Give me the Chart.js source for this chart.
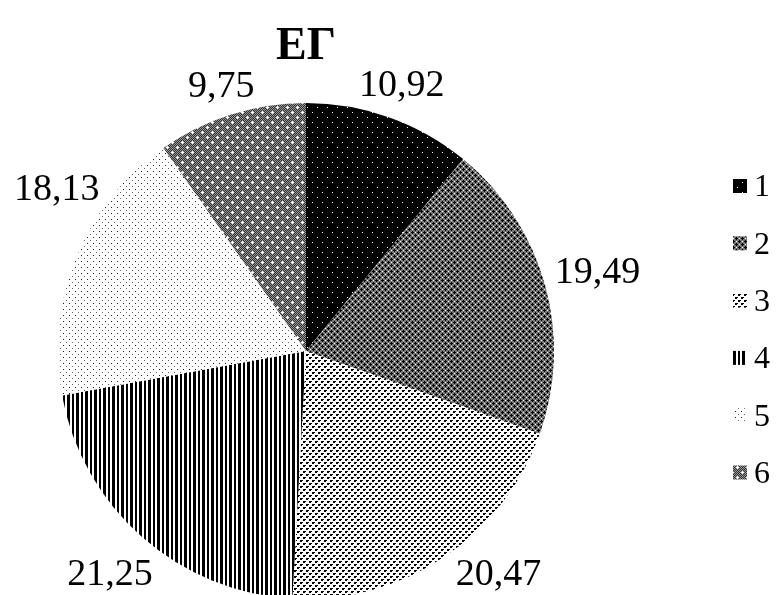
<!DOCTYPE html>
<html>
<head>
<meta charset="utf-8">
<script src="https://cdn.jsdelivr.net/npm/chart.js@4.4.0/dist/chart.umd.min.js"></script>
<style>
html, body { margin: 0; padding: 0; background: #fff; overflow: hidden; }
canvas { display: block; }
</style>
</head>
<body>
<canvas id="c" width="782" height="600"></canvas>
<script>
var chartTitle = 'ЕГ';
var categories = ['1', '2', '3', '4', '5', '6'];
var shares = [10.92, 19.49, 20.47, 21.25, 18.13, 9.75];

var FONT = '"Liberation Serif", "Times New Roman", serif';
var LABEL_SIZE = 38;
var GAP = 10;

var canvas = document.getElementById('c');
var ctx = canvas.getContext('2d');

// small tiles that mimic the excel fill patterns
function makePattern(w, h, bg, draw) {
    var t = document.createElement('canvas');
    t.width = w;
    t.height = h;
    var g = t.getContext('2d');
    g.fillStyle = bg;
    g.fillRect(0, 0, w, h);
    draw(g);
    return ctx.createPattern(t, 'repeat');
}

function dots(g, color, pts) {
    g.fillStyle = color;
    pts.forEach(function(p) {
        g.fillRect(p[0], p[1], p[2] || 1, p[3] || 1);
    });
}

function plus(g, color, x, y) {
    dots(g, color, [[x, y - 1], [x - 1, y], [x, y], [x + 1, y], [x, y + 1]]);
}

var fills = [
    makePattern(10, 10, '#000', function(g) {
        dots(g, '#fff', [[2, 2], [7, 7]]);
    }),
    makePattern(6, 6, '#777', function(g) {
        plus(g, '#000', 1, 1);
        plus(g, '#000', 4, 4);
        dots(g, '#fff', [[4, 1], [1, 4]]);
    }),
    makePattern(6, 6, '#fff', function(g) {
        dots(g, '#000', [[0, 0, 2, 2], [2, 0], [3, 3, 2, 2], [5, 3]]);
    }),
    makePattern(9, 1, '#fff', function(g) {
        dots(g, '#000', [[0, 0, 2, 1], [4, 0, 3, 1]]);
    }),
    makePattern(6, 6, '#fff', function(g) {
        dots(g, '#666', [[0, 0]]);
        dots(g, '#222', [[3, 3]]);
    }),
    makePattern(10, 10, '#fff', function(g) {
        for (var y = 0; y < 10; y++) {
            for (var x = 0; x < 10; x++) {
                g.fillStyle = (x + y) % 2 ? '#333' : '#959595';
                g.fillRect(x, y, 1, 1);
            }
        }
        plus(g, '#fff', 2, 2);
        plus(g, '#fff', 7, 7);
    })
];

function fmt(v) {
    return v.toFixed(2).replace('.', ',');
}

var titlePlugin = {
    id: 'pieTitle',
    afterDraw: function(chart) {
        var c = chart.ctx, a = chart.chartArea;
        c.save();
        c.font = 'bold 46px ' + FONT;
        c.fillStyle = '#000';
        c.textAlign = 'center';
        c.textBaseline = 'alphabetic';
        c.fillText(chartTitle, (a.left + a.right) / 2, 59);
        c.restore();
    }
};

// value labels outside the slices, kept inside the visible area
var labelPlugin = {
    id: 'outsideLabels',
    afterDatasetsDraw: function(chart) {
        var c = chart.ctx;
        var meta = chart.getDatasetMeta(0);
        c.save();
        c.font = LABEL_SIZE + 'px ' + FONT;
        c.fillStyle = '#000';
        c.textAlign = 'center';
        c.textBaseline = 'alphabetic';
        var h = LABEL_SIZE * 0.7;
        meta.data.forEach(function(arc, i) {
            var p = arc.getProps(['x', 'y', 'startAngle', 'endAngle', 'outerRadius'], true);
            var mid = (p.startAngle + p.endAngle) / 2;
            var dx = Math.cos(mid), dy = Math.sin(mid);
            var txt = fmt(shares[i]);
            var w = c.measureText(txt).width;
            var d = p.outerRadius + GAP + Math.abs(dx) * w / 2 + Math.abs(dy) * h / 2;
            var lx = p.x + dx * d, ly = p.y + dy * d;
            var need = p.outerRadius + 8;
            function clear() {
                var nx = Math.min(Math.max(p.x, lx - w / 2), lx + w / 2);
                var ny = Math.min(Math.max(p.y, ly - h / 2), ly + h / 2);
                return Math.hypot(nx - p.x, ny - p.y) >= need;
            }
            var maxY = 572, minX = 14 + w / 2;
            if (ly > maxY) {
                ly = maxY;
                while (!clear()) lx += dx > 0 ? 1 : -1;
            }
            if (lx < minX) {
                lx = minX;
                while (!clear()) ly += dy > 0 ? 1 : -1;
            }
            c.fillText(txt, lx, ly + h / 2);
        });
        c.restore();
    }
};

var legendPlugin = {
    id: 'sideLegend',
    afterDraw: function(chart) {
        var c = chart.ctx;
        var x0 = 733, y0 = 186, step = 57.3, box = 14;
        c.save();
        c.font = '32px ' + FONT;
        c.textBaseline = 'middle';
        c.textAlign = 'left';
        categories.forEach(function(name, i) {
            var y = y0 + i * step;
            c.fillStyle = fills[i];
            c.fillRect(x0, y - box / 2, box, box);
            c.fillStyle = '#000';
            c.fillText(name, x0 + box + 7, y + 2);
        });
        c.restore();
    }
};

new Chart(ctx, {
    type: 'pie',
    data: {
        labels: categories,
        datasets: [{
            data: shares,
            backgroundColor: fills,
            borderWidth: 0
        }]
    },
    options: {
        responsive: false,
        animation: false,
        devicePixelRatio: 1,
        layout: { padding: { left: 58, right: 228, top: 103, bottom: 1 } },
        plugins: {
            legend: { display: false },
            title: { display: false },
            tooltip: { enabled: false }
        }
    },
    plugins: [titlePlugin, labelPlugin, legendPlugin]
});
</script>
</body>
</html>
